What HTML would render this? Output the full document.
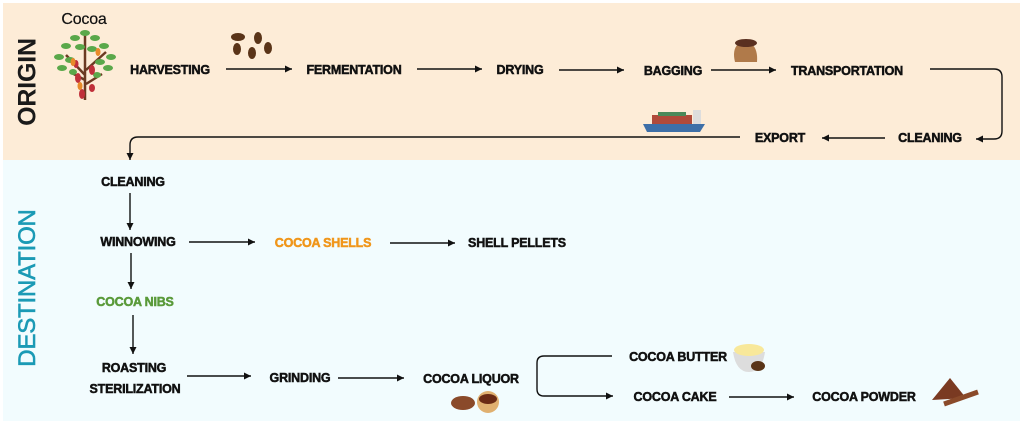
<!DOCTYPE html>
<html><head><meta charset="utf-8"><style>
html,body{margin:0;padding:0;width:1024px;height:421px;overflow:hidden;background:#fff}
.l{position:absolute;font-family:"Liberation Sans",sans-serif;font-weight:bold;font-size:12.5px;letter-spacing:-0.2px;color:#111;-webkit-text-stroke:0.5px currentColor;white-space:nowrap;transform:translate(-50%,-50%)}
</style></head><body>
<div style="position:absolute;left:3px;top:3px;width:1017px;height:157px;background:#fdecd7"></div>
<div style="position:absolute;left:3px;top:160px;width:1017px;height:261px;background:#f2fcfe"></div>
<div class="l" style="left:28px;top:82px;transform:translate(-50%,-50%) rotate(-90deg);font-size:25px;color:#1a1a1a;-webkit-text-stroke:0">ORIGIN</div>
<div class="l" style="left:28px;top:288px;transform:translate(-50%,-50%) rotate(-90deg);font-size:24px;color:#1b9ab5;font-weight:normal;-webkit-text-stroke:0.6px #1b9ab5">DESTINATION</div>
<div class="l" style="left:84px;top:20px;font-size:16px;font-weight:normal;-webkit-text-stroke:0.2px #111">Cocoa</div>
<svg width="1024" height="421" style="position:absolute;left:0;top:0">
<defs><marker id="a" markerWidth="6" markerHeight="6" refX="5" refY="3" orient="auto"><path d="M0,0.5 L5,3 L0,5.5z" fill="#111"/></marker></defs>
<g stroke="#111" stroke-width="1.4" fill="none" marker-end="url(#a)">
<path d="M226 69H292"/><path d="M417 69H482"/><path d="M559 70H624"/><path d="M711 70H776"/>
<path d="M930 69H994Q1002 69 1002 77V131Q1002 139 994 139H976"/>
<path d="M885 138H822"/>
<path d="M740 137H138Q130 137 130 145V160"/>
<path d="M130 193V230"/><path d="M189 242H255"/><path d="M390 243H455"/>
<path d="M131 253V289"/><path d="M133 315V354"/>
<path d="M187 376H251"/><path d="M338 378H404"/>
<path d="M612 356H544Q537 356 537 363V389Q537 396 544 396H613"/>
<path d="M729 397H794"/>
</g>
<!-- tree -->
<path d="M85 100V60M85 75L66 55M86 70L106 52M85 62L85 34M85 80L70 72M86 84L102 74" stroke="#6b3a22" stroke-width="2.5"/>
<g fill="#5aa84a">
<ellipse cx="85" cy="33" rx="5" ry="3"/><ellipse cx="75" cy="38" rx="5" ry="3"/><ellipse cx="95" cy="38" rx="5" ry="3"/>
<ellipse cx="66" cy="46" rx="5" ry="3"/><ellipse cx="104" cy="46" rx="5" ry="3"/><ellipse cx="80" cy="47" rx="5" ry="3"/><ellipse cx="92" cy="49" rx="5" ry="3"/>
<ellipse cx="59" cy="57" rx="5" ry="3"/><ellipse cx="111" cy="57" rx="5" ry="3"/><ellipse cx="70" cy="60" rx="5" ry="3"/><ellipse cx="100" cy="62" rx="5" ry="3"/>
<ellipse cx="62" cy="68" rx="5" ry="3"/><ellipse cx="108" cy="68" rx="5" ry="3"/><ellipse cx="73" cy="72" rx="4" ry="3"/><ellipse cx="97" cy="75" rx="4" ry="3"/>
</g>
<g fill="#c0303a"><ellipse cx="78" cy="78" rx="3" ry="5"/><ellipse cx="92" cy="70" rx="3" ry="5"/><ellipse cx="82" cy="94" rx="3" ry="5"/><ellipse cx="92" cy="88" rx="3" ry="4"/><ellipse cx="76" cy="64" rx="2.5" ry="4"/></g>
<g fill="#e88a2a"><ellipse cx="73" cy="62" rx="2.5" ry="4"/><ellipse cx="98" cy="52" rx="2.5" ry="4"/><ellipse cx="80" cy="86" rx="2.5" ry="4"/></g>
<!-- beans -->
<g fill="#5a3418"><ellipse cx="238" cy="37" rx="7" ry="4"/><ellipse cx="258" cy="38" rx="4" ry="6"/><ellipse cx="237" cy="49" rx="4" ry="6"/><ellipse cx="252" cy="53" rx="4" ry="6"/><ellipse cx="268" cy="48" rx="4" ry="6"/></g>
<!-- bag -->
<path d="M735 62Q732 50 738 44L752 44Q758 50 757 62Z" fill="#b07a4a"/><ellipse cx="746" cy="43" rx="11" ry="4" fill="#5a3020"/>
<!-- ship -->
<path d="M643 124H705L700 132H647Z" fill="#3d6fa8"/><rect x="652" y="115" width="40" height="9" fill="#b04a3a"/><rect x="658" y="112" width="28" height="4" fill="#4a8a5a"/><rect x="693" y="110" width="8" height="14" fill="#ddd"/>
<!-- liquor -->
<ellipse cx="463" cy="403" rx="12" ry="7" fill="#8a4a2a"/><circle cx="488" cy="402" r="11" fill="#e0b070"/><ellipse cx="488" cy="399" rx="9" ry="5" fill="#6a2a14"/>
<!-- butter -->
<path d="M733 352H765Q762 372 749 372Q736 372 733 352Z" fill="#ddd"/><ellipse cx="749" cy="350" rx="15" ry="6" fill="#f8e89a"/><ellipse cx="758" cy="366" rx="7" ry="5" fill="#5a3418"/>
<!-- powder -->
<path d="M932 400L950 378L966 398Z" fill="#7a3a22"/><path d="M944 404L978 392" stroke="#8a4a2a" stroke-width="5"/>
</svg>
<div class="l" style="left:170px;top:70px">HARVESTING</div>
<div class="l" style="left:354px;top:70px">FERMENTATION</div>
<div class="l" style="left:520px;top:70px">DRYING</div>
<div class="l" style="left:673px;top:71px">BAGGING</div>
<div class="l" style="left:847px;top:71px">TRANSPORTATION</div>
<div class="l" style="left:930px;top:138px">CLEANING</div>
<div class="l" style="left:780px;top:138px">EXPORT</div>
<div class="l" style="left:133px;top:182px">CLEANING</div>
<div class="l" style="left:138px;top:242px">WINNOWING</div>
<div class="l" style="left:323px;top:243px;color:#f0961a">COCOA SHELLS</div>
<div class="l" style="left:517px;top:243px">SHELL PELLETS</div>
<div class="l" style="left:135px;top:302px;color:#5a9a3a">COCOA NIBS</div>
<div class="l" style="left:134px;top:368px">ROASTING</div>
<div class="l" style="left:135px;top:389px">STERILIZATION</div>
<div class="l" style="left:300px;top:378px">GRINDING</div>
<div class="l" style="left:471px;top:379px">COCOA LIQUOR</div>
<div class="l" style="left:678px;top:357px">COCOA BUTTER</div>
<div class="l" style="left:675px;top:397px">COCOA CAKE</div>
<div class="l" style="left:864px;top:397px">COCOA POWDER</div>
</body></html>
